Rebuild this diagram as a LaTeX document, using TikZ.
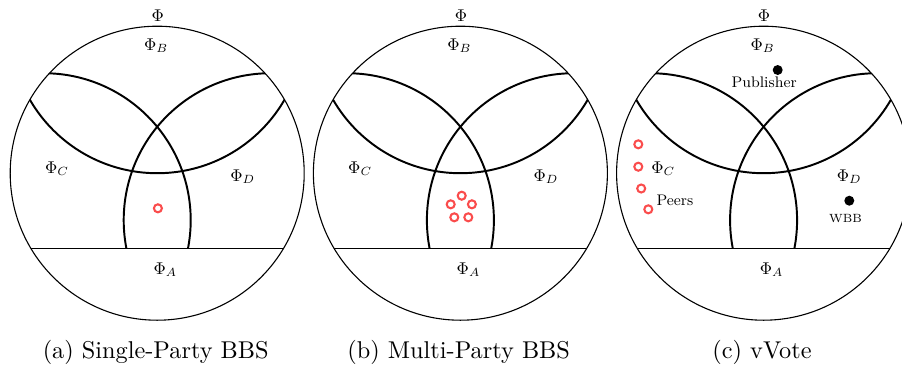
\documentclass[tikz,border=0pt]{standalone}
\usepackage{graphicx}
\definecolor{peercol}{RGB}{250,76,76}
\newcommand\dtxt[1]{\scalebox{0.7}{#1}}
\newcommand\venpanel[2]{%
  \draw[outerc] (#1,173.2) circle[radius=147];
  \begin{scope}
    \clip (#1,173.2) circle[radius=147];
    \clip ({#1-150},0) rectangle ({#1+150},248.3);
    \draw[arcl] (#1,26.2) circle[radius=147];
    \draw[arcl] ({#1-113.5},220.2) circle[radius=147];
    \draw[arcl] ({#1+113.5},220.2) circle[radius=147];
  \end{scope}
  \coordinate (sl#2) at ({#1-126.4},248.3);
  \coordinate (sr#2) at ({#1+126.4},248.3);
  \draw[splitl] (sl#2) -- (sr#2);
  \node[lbl] (phi#2) at ({#1+0.5},15.5) {\dtxt{$\Phi$}};
  \node[lbl] (phiB#2) at ({#1-1},45.5) {\dtxt{$\Phi_B$}};
  \node[lbl] (phiA#2) at ({#1+8},269.7) {\dtxt{$\Phi_A$}};
  \node[lbl] (phiC#2) at ({#1-100.3},168.8) {\dtxt{$\Phi_C$}};
  \node[lbl] (phiD#2) at ({#1+85.5},176.7) {\dtxt{$\Phi_D$}};
}
\tikzset{
  outerc/.style={line width=0.45pt},
  arcl/.style={line width=0.8pt},
  splitl/.style={line width=0.6pt},
  lbl/.style={inner sep=0pt},
  peernode/.style={circle, draw=peercol, line width=0.85pt, inner sep=0pt, minimum size=3.3pt},
  dotnode/.style={circle, fill=black, inner sep=0pt, minimum size=4.1pt},
  capnode/.style={anchor=base, inner sep=0pt},
}
\begin{document}
\begin{tikzpicture}[x=0.4115pt, y=-0.4115pt]
\useasboundingbox (0,0) rectangle (902,365);
\venpanel{157.2}{a}
\venpanel{460.4}{b}
\venpanel{763.6}{c}
% panel a
\node[peernode] (pa1) at (157.9,208.3) {};
% panel b
\node[peernode] (pb1) at (461.7,195.7) {};
\node[peernode] (pb2) at (450.7,204.3) {};
\node[peernode] (pb3) at (471.9,204.3) {};
\node[peernode] (pb4) at (454.3,217.3) {};
\node[peernode] (pb5) at (468.3,217.3) {};
% panel c
\node[dotnode] (pubdot) at (777.7,70) {};
\node[lbl] (pub) at (764.2,82.3) {\dtxt{\small Publisher}};
\node[peernode] (pc1) at (638.3,144.3) {};
\node[peernode] (pc2) at (638.3,166.7) {};
\node[peernode] (pc3) at (641.2,188.5) {};
\node[peernode] (pc4) at (648.3,209.3) {};
\node[lbl] (peers) at (675,200.8) {\dtxt{\small Peers}};
\node[dotnode] (wbbdot) at (849.3,200.7) {};
\node[lbl] (wbb) at (845.5,218.5) {\dtxt{\scriptsize WBB}};
% captions
\node[capnode] (capa) at (155.7,358.5) {(a) Single-Party BBS};
\node[capnode] (capb) at (458.7,358.5) {(b) Multi-Party BBS};
\node[capnode] (capc) at (762,358.5) {(c) vVote};
\end{tikzpicture}
\end{document}
